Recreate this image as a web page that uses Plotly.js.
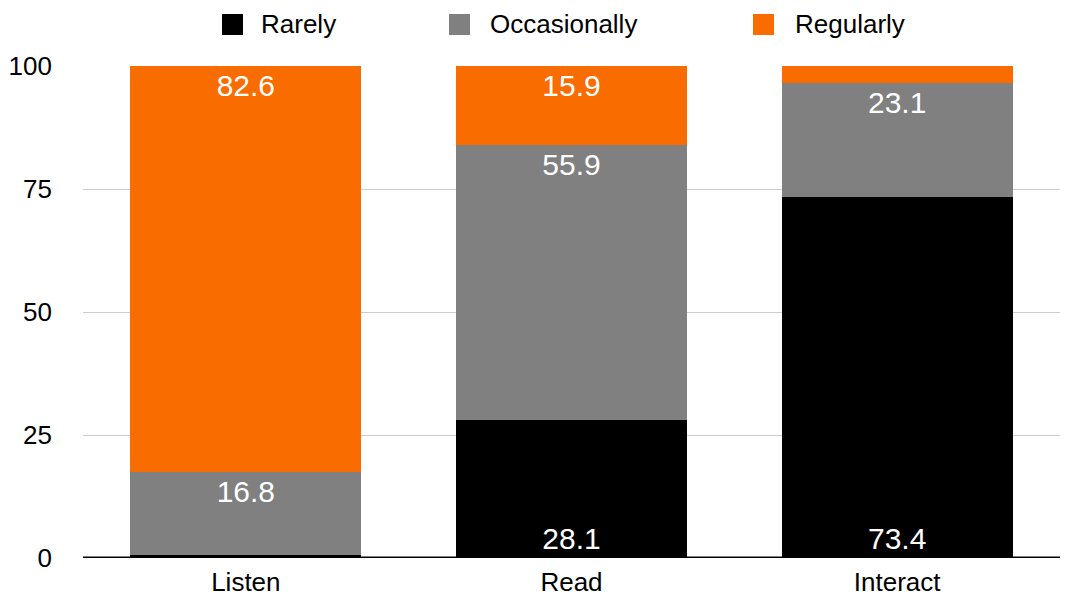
<!DOCTYPE html>
<html><head><meta charset="utf-8">
<script src="https://cdn.plot.ly/plotly-3.0.1.min.js"></script>
<style>body{margin:0;background:#fff}#c{width:1065px;height:597px}</style>
</head><body><div id="c"></div>
<script>
const categories = ["Listen", "Read", "Interact"];
const seriesNames = ["Rarely", "Occasionally", "Regularly"];
const rarely = [0.6, 28.1, 73.4];
const occasionally = [16.8, 55.9, 23.1];
const regularly = [82.6, 15.9, 3.5];
const rarelyText = ["", "28.1", "73.4"];
const occasionallyText = ["16.8", "55.9", "23.1"];
const regularlyText = ["82.6", "15.9", "3.5"];
const colors = ["#000000", "#808080", "#f86c00"];

const font = "Liberation Sans, Arial, Helvetica, sans-serif";
const W = 1065, H = 597, L = 83, R = 5, T = 66, B = 39;
function tr(name, y, text, color, anchor, pos) {
  return {
    type: "bar", name: name, x: categories, y: y, text: text,
    marker: {color: color, line: {width: 0}},
    textposition: pos, insidetextanchor: anchor, constraintext: "none",
    textfont: {color: "#ffffff", size: 30, family: font},
    outsidetextfont: {color: "#ffffff", size: 18, family: font},
    hoverinfo: "x+y+name", cliponaxis: false, showlegend: false
  };
}
const data = [
  tr(seriesNames[0], rarely, rarelyText, colors[0], "start", "inside"),
  tr(seriesNames[1], occasionally, occasionallyText, colors[1], "end", "inside"),
  tr(seriesNames[2], regularly, regularlyText, colors[2], "end", ["inside", "inside", "outside"])
];

// manual legend (pixel positions converted to paper coords)
const pw = W - L - R, ph = H - T - B;
const px = v => (v - L) / pw;
const py = v => (H - B - v) / ph;
const legendSquareX = [222, 449, 753];
const legendTextX = [260, 489, 794];
const shapes = [{type: "line", xref: "paper", yref: "y", x0: 0, x1: 1, y0: 0, y1: 0,
                 line: {color: "#000", width: 3}}];
const annotations = [];
seriesNames.forEach((n, i) => {
  shapes.push({type: "rect", xref: "paper", yref: "paper",
    x0: px(legendSquareX[i]), x1: px(legendSquareX[i] + 21),
    y0: py(35), y1: py(14), fillcolor: colors[i], line: {width: 0}});
  annotations.push({xref: "paper", yref: "paper", x: px(legendTextX[i]), y: py(24),
    xanchor: "left", yanchor: "middle", text: n, showarrow: false, borderpad: 0,
    font: {size: 26, family: font, color: "#000"}});
});

const layout = {
  width: W, height: H,
  margin: {l: L, r: R, t: T, b: B},
  barmode: "stack", bargap: 0.29,
  paper_bgcolor: "#fff", plot_bgcolor: "#fff",
  font: {family: font, size: 26, color: "#000"},
  showlegend: false,
  xaxis: {showgrid: false, showline: false, zeroline: false, ticks: "",
          ticklabelstandoff: 6, tickfont: {size: 26, family: font}, fixedrange: true},
  yaxis: {range: [0, 100], tickvals: [0, 25, 50, 75, 100], showgrid: true,
          gridcolor: "#cccccc", gridwidth: 1, zeroline: false, showline: false,
          ticks: "", ticklabelstandoff: 30, tickfont: {size: 26, family: font}},
  shapes: shapes,
  annotations: annotations
};
Plotly.newPlot("c", data, layout, {displayModeBar: false});
</script></body></html>
